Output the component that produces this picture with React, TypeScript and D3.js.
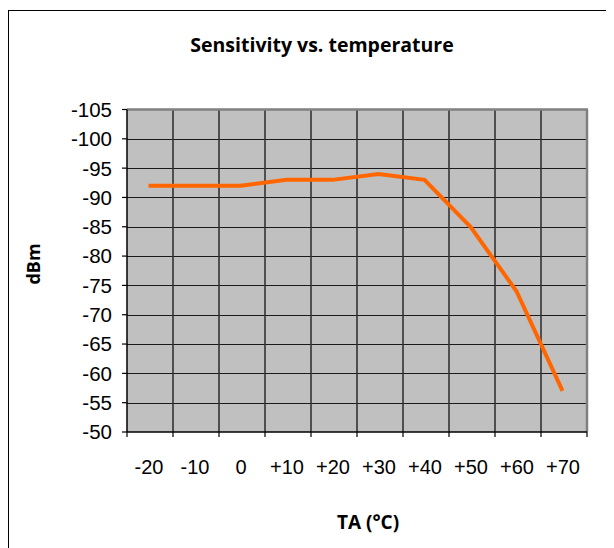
import React from "react";
import * as d3 from "d3";

const categories = ["-20", "-10", "0", "+10", "+20", "+30", "+40", "+50", "+60", "+70"];
const sensitivity = [-92, -92, -92, -93, -93, -94, -93, -85, -74, -57];
const yTicks = [-105, -100, -95, -90, -85, -80, -75, -70, -65, -60, -55, -50];

const W = 606;
const H = 540;
const OX = -8; // page offset
const OY = -8;

export default function App() {
  const left = 127 + OX;
  const right = 587 + OX;
  const top = 109.5 + OY;
  const bottom = 432 + OY;

  const x = d3.scaleBand<string>().domain(categories).range([left, right]).padding(0);
  const y = d3.scaleLinear().domain([-50, -105]).range([bottom, top]);

  const line = d3
    .line<number>()
    .x((_, i) => (x(categories[i]) as number) + x.bandwidth() / 2 - 1.5)
    .y((d) => y(d));

  const bounds = categories.map((c) => x(c) as number).concat([right]);

  return (
    <svg width={W} height={H} style={{ display: "block" }}>
      <rect x={0.5} y={10.5 + OY} width={604} height={600} fill="#fff" stroke="#000" strokeWidth={1} />
      <text
        x={322 + OX}
        y={52 + OY}
        textAnchor="middle"
        fontFamily="'Open Sans', sans-serif"
        fontWeight="bold"
        fontSize={19.5}
        fill="#000"
      >
        Sensitivity vs. temperature
      </text>
      <rect x={left} y={top} width={right - left} height={bottom - top} fill="#C0C0C0" />
      {yTicks.slice(1, -1).map((t) => (
        <line key={"h" + t} x1={left} x2={right} y1={Math.round(y(t)) + 0.5} y2={Math.round(y(t)) + 0.5} stroke="#1a1a1a" strokeWidth={1.2} />
      ))}
      {bounds.slice(1, -1).map((b, i) => (
        <line key={"v" + i} x1={b} x2={b} y1={top} y2={bottom} stroke="#333" strokeWidth={1.6} />
      ))}
      <line x1={left} x2={right + 1} y1={top} y2={top} stroke="#808080" strokeWidth={2.5} />
      <line x1={right} x2={right} y1={top} y2={bottom} stroke="#808080" strokeWidth={2.5} />
      <path d={line(sensitivity) || ""} fill="none" stroke="#FF6600" strokeWidth={4} strokeLinejoin="miter" />
      <line x1={left} x2={left} y1={top} y2={bottom} stroke="#000" strokeWidth={1.5} />
      <line x1={left} x2={right} y1={bottom} y2={bottom} stroke="#000" strokeWidth={1.5} />
      {yTicks.map((t) => (
        <g key={"yt" + t}>
          <line x1={left - 5} x2={left} y1={y(t)} y2={y(t)} stroke="#000" strokeWidth={1.2} />
          <text
            x={left - 15}
            y={y(t)}
            dy="0.36em"
            textAnchor="end"
            fontFamily="'Liberation Sans', Arial, sans-serif"
            fontSize={20.5}
            fill="#000"
          >
            {t}
          </text>
        </g>
      ))}
      {bounds.map((b, i) => (
        <line key={"xt" + i} x1={b} x2={b} y1={bottom} y2={bottom + 5} stroke="#000" strokeWidth={1.2} />
      ))}
      {categories.map((c) => (
        <text
          key={"xl" + c}
          x={(x(c) as number) + x.bandwidth() / 2 - 1}
          y={474 + OY}
          textAnchor="middle"
          fontFamily="'Liberation Sans', Arial, sans-serif"
          fontSize={20}
          fill="#000"
        >
          {c}
        </text>
      ))}
      <text
        transform={`translate(${40 + OX},${264 + OY}) rotate(-90)`}
        textAnchor="middle"
        fontFamily="'Open Sans', sans-serif"
        fontWeight="bold"
        fontSize={18}
        fill="#000"
      >
        dBm
      </text>
      <text
        x={368 + OX}
        y={529 + OY}
        textAnchor="middle"
        fontFamily="'Open Sans', sans-serif"
        fontWeight="bold"
        fontSize={19}
        fill="#000"
      >
        TA (°C)
      </text>
    </svg>
  );
}
